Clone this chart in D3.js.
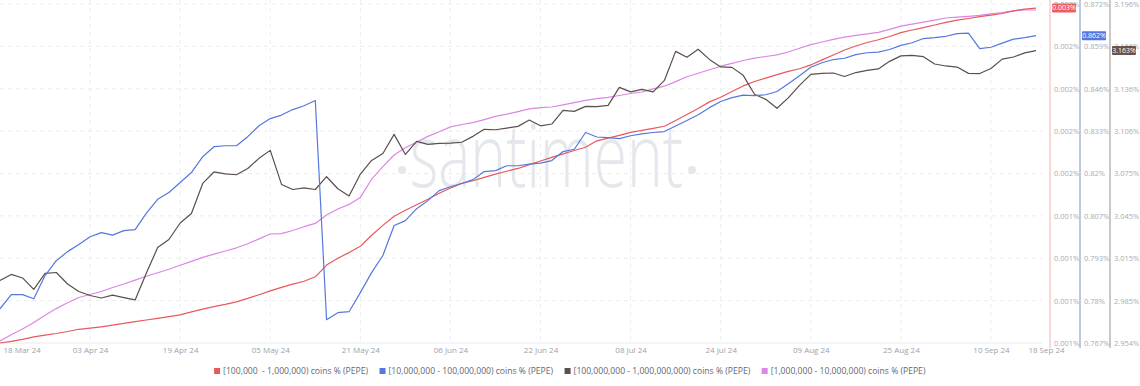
<!DOCTYPE html>
<html>
<head>
<meta charset="utf-8">
<script src="https://cdnjs.cloudflare.com/ajax/libs/d3/7.8.5/d3.min.js"></script>
<style>
  body { margin: 0; background: #fff; }
  text { font-family: "Open Sans", Lato, sans-serif; }
</style>
</head>
<body>
<script>

// one point every 2 days starting 18 Mar 2024
var startDate = "2024-03-18";
var stepDays = 2;

var tickLabels = ["18 Mar 24", "03 Apr 24", "19 Apr 24", "05 May 24", "21 May 24", "06 Jun 24",
  "22 Jun 24", "08 Jul 24", "24 Jul 24", "09 Aug 24", "25 Aug 24", "10 Sep 24", "18 Sep 24"];

var legendLabels = [
  "[100,000  - 1,000,000) coins % (PEPE)",
  "[10,000,000 - 100,000,000) coins % (PEPE)",
  "[100,000,000 - 1,000,000,000) coins % (PEPE)",
  "[1,000,000 - 10,000,000) coins % (PEPE)"
];

var redValues = [0.000850, 0.000858, 0.000868, 0.000880, 0.000889, 0.000897, 0.000907, 0.000918, 0.000924, 0.000930,
  0.000939, 0.000947, 0.000956, 0.000964, 0.000972, 0.000981, 0.000989, 0.001004, 0.001018, 0.001030,
  0.001041, 0.001054, 0.001071, 0.001089, 0.001108, 0.001126, 0.001142, 0.001156, 0.001178, 0.001236,
  0.001270, 0.001298, 0.001329, 0.001384, 0.001433, 0.001478, 0.001508, 0.001535, 0.001562, 0.001592,
  0.001618, 0.001641, 0.001654, 0.001671, 0.001687, 0.001701, 0.001715, 0.001734, 0.001752, 0.001770,
  0.001787, 0.001804, 0.001820, 0.001852, 0.001865, 0.001879, 0.001894, 0.001904, 0.001914, 0.001924,
  0.001953, 0.001982, 0.002012, 0.002045, 0.002068, 0.002096, 0.002124, 0.002146, 0.002163, 0.002180,
  0.002196, 0.002209, 0.002228, 0.002253, 0.002277, 0.002302, 0.002322, 0.002339, 0.002353, 0.002369,
  0.002388, 0.002401, 0.002413, 0.002426, 0.002439, 0.002450, 0.002458, 0.002467, 0.002475, 0.002483,
  0.002496, 0.002505, 0.002510];

var blueValues = [0.7778, 0.7822, 0.7822, 0.7809, 0.7881, 0.7927, 0.7955, 0.7977, 0.8001, 0.8014,
  0.8006, 0.8020, 0.8023, 0.8074, 0.8117, 0.8138, 0.8169, 0.8200, 0.8249, 0.8280,
  0.8283, 0.8283, 0.8311, 0.8345, 0.8367, 0.8378, 0.8395, 0.8407, 0.8423, 0.7744,
  0.7766, 0.7769, 0.7828, 0.7890, 0.7943, 0.8036, 0.8051, 0.8088, 0.8113, 0.8144,
  0.8156, 0.8166, 0.8178, 0.8203, 0.8206, 0.8221, 0.8221, 0.8226, 0.8229, 0.8237,
  0.8265, 0.8272, 0.8324, 0.8310, 0.8308, 0.8305, 0.8314, 0.8320, 0.8324, 0.8327,
  0.8344, 0.8361, 0.8379, 0.8401, 0.8420, 0.8432, 0.8440, 0.8438, 0.8441, 0.8451,
  0.8475, 0.8500, 0.8526, 0.8540, 0.8550, 0.8554, 0.8565, 0.8571, 0.8573, 0.8581,
  0.8594, 0.8602, 0.8615, 0.8618, 0.8622, 0.8630, 0.8632, 0.8584, 0.8588, 0.8601,
  0.8613, 0.8618, 0.8624];

var brownValues = [2.9990, 3.0033, 3.0008, 2.9926, 3.0040, 3.0047, 2.9965, 2.9911, 2.9883, 2.9865,
  2.9886, 2.9868, 2.9851, 3.0043, 3.0225, 3.0282, 3.0400, 3.0468, 3.0682, 3.0764,
  3.0750, 3.0744, 3.0789, 3.0861, 3.0918, 3.0675, 3.0639, 3.0651, 3.0639, 3.0730,
  3.0644, 3.0593, 3.0749, 3.0846, 3.0896, 3.1032, 3.0889, 3.0982, 3.0961, 3.0968,
  3.0970, 3.0976, 3.1018, 3.1068, 3.1065, 3.1077, 3.1089, 3.1134, 3.1093, 3.1106,
  3.1203, 3.1196, 3.1232, 3.1230, 3.1239, 3.1367, 3.1335, 3.1353, 3.1335, 3.1417,
  3.1624, 3.1582, 3.1639, 3.1567, 3.1513, 3.1510, 3.1453, 3.1318, 3.1282, 3.1218,
  3.1292, 3.1382, 3.1460, 3.1467, 3.1470, 3.1445, 3.1473, 3.1489, 3.1499, 3.1553,
  3.1592, 3.1596, 3.1586, 3.1534, 3.1520, 3.1512, 3.1467, 3.1466, 3.1502, 3.1569,
  3.1584, 3.1613, 3.1630];

var pinkValues = [0.012020, 0.012083, 0.012140, 0.012205, 0.012278, 0.012344, 0.012403, 0.012455, 0.012485, 0.012515,
  0.012555, 0.012590, 0.012629, 0.012668, 0.012702, 0.012737, 0.012777, 0.012816, 0.012856, 0.012889,
  0.012920, 0.012952, 0.012992, 0.013041, 0.013090, 0.013094, 0.013125, 0.013163, 0.013196, 0.013280,
  0.013340, 0.013386, 0.013456, 0.013638, 0.013764, 0.013880, 0.013952, 0.014010, 0.014066, 0.014113,
  0.014161, 0.014185, 0.014204, 0.014234, 0.014266, 0.014288, 0.014314, 0.014342, 0.014354, 0.014360,
  0.014381, 0.014404, 0.014426, 0.014444, 0.014456, 0.014475, 0.014495, 0.014510, 0.014541, 0.014568,
  0.014614, 0.014663, 0.014697, 0.014732, 0.014768, 0.014797, 0.014825, 0.014848, 0.014865, 0.014882,
  0.014910, 0.014948, 0.014984, 0.015010, 0.015036, 0.015058, 0.015076, 0.015092, 0.015106, 0.015137,
  0.015168, 0.015188, 0.015208, 0.015228, 0.015250, 0.015259, 0.015267, 0.015277, 0.015291, 0.015305,
  0.015322, 0.015330, 0.015330];

var redDomain = [0.00085, 0.00253];
var blueDomain = [0.7672, 0.8722];
var brownDomain = [2.9544, 3.1962];
var pinkDomain = [0.0120, 0.01539];

var width = 1140, height = 386;
var plotTop = 4, plotBottom = 343, plotRight = 1036;

var parseDay = d3.utcParse("%Y-%m-%d");
var parseTick = d3.utcParse("%d %b %y");
var start = parseDay(startDate);
var dates = redValues.map(function(d, i) { return d3.utcDay.offset(start, i * stepDays); });

var x = d3.scaleUtc()
    .domain([start, parseTick("18 Sep 24")])
    .range([0, plotRight]);

var series = [
  {values: redValues, color: "#e8585c", domain: redDomain, axisX: 1050, axisColor: "#f3c3c0", badge: "#ef5d5f"},
  {values: blueValues, color: "#5677de", domain: blueDomain, axisX: 1080, axisColor: "#93a3c8", badge: "#5677de"},
  {values: brownValues, color: "#5b4f4b", domain: brownDomain, axisX: 1110, axisColor: "#a9a2a0", badge: "#6b5349"},
  {values: pinkValues, color: "#dc86e6", domain: pinkDomain}
];
series.forEach(function(s) {
  s.y = d3.scaleLinear().domain(s.domain).range([plotBottom, plotTop]);
});

var svg = d3.select("body").append("svg")
    .attr("width", width)
    .attr("height", height);

// grid
var gridY = series[1].y;
var gridVals = d3.range(9).map(function(k) {
  return blueDomain[0] + k * (blueDomain[1] - blueDomain[0]) / 8;
});
svg.append("g").selectAll("line").data(gridVals.slice(1))
  .enter().append("line")
    .attr("x1", 0).attr("x2", plotRight + 6)
    .attr("y1", function(d) { return gridY(d); })
    .attr("y2", function(d) { return gridY(d); })
    .attr("stroke", "#ebecef")
    .attr("stroke-dasharray", "4,4");

svg.append("line")
    .attr("x1", 0).attr("x2", plotRight + 6)
    .attr("y1", plotBottom).attr("y2", plotBottom)
    .attr("stroke", "#e9eaee");

var tickDates = tickLabels.map(parseTick);
svg.append("g").selectAll("line").data(tickDates.slice(1, -1))
  .enter().append("line")
    .attr("x1", function(d) { return x(d); })
    .attr("x2", function(d) { return x(d); })
    .attr("y1", 0).attr("y2", plotBottom)
    .attr("stroke", "#ebecef")
    .attr("stroke-dasharray", "4,4");

// watermark
svg.append("text")
    .attr("x", 410).attr("y", 187)
    .attr("textLength", 273)
    .attr("lengthAdjust", "spacingAndGlyphs")
    .attr("font-size", "88px")
    .attr("font-weight", 300)
    .attr("fill", "#e4e7eb")
    .text("santiment");
svg.append("circle").attr("cx", 402).attr("cy", 170).attr("r", 4).attr("fill", "#e4e7eb");
svg.append("circle").attr("cx", 692).attr("cy", 170).attr("r", 4).attr("fill", "#e4e7eb");

// x axis labels
var xAxis = d3.axisBottom(x)
    .tickValues(tickDates)
    .tickSize(0)
    .tickPadding(4)
    .tickFormat(d3.utcFormat("%d %b %y"));
var gx = svg.append("g")
    .attr("transform", "translate(0," + plotBottom + ")")
    .call(xAxis);
gx.select(".domain").remove();
gx.selectAll("text")
    .attr("fill", "#9ca1ab")
    .attr("font-size", "8px")
    .attr("font-family", "\"Open Sans\", sans-serif");
gx.selectAll(".tick").filter(function(d, i) { return i === 0; })
    .select("text").attr("text-anchor", "start").attr("x", 3);
gx.selectAll(".tick").filter(function(d, i) { return i === tickDates.length - 1; })
    .select("text").attr("x", 10);

// lines
var line = d3.line()
    .x(function(d, i) { return x(dates[i]); });

[series[3], series[0], series[2], series[1]].forEach(function(s) {
  svg.append("path")
      .datum(s.values)
      .attr("fill", "none")
      .attr("stroke", s.color)
      .attr("stroke-width", 1.2)
      .attr("stroke-linejoin", "round")
      .attr("d", line.y(function(d) { return s.y(d); }));
});

// right axes
var fmt = d3.format(".3~f");
series.slice(0, 3).forEach(function(s) {
  var ticks = d3.range(9).map(function(k) {
    return s.domain[0] + k * (s.domain[1] - s.domain[0]) / 8;
  });
  var g = svg.append("g")
      .attr("transform", "translate(" + s.axisX + ",0)")
      .call(d3.axisRight(s.y).tickValues(ticks).tickSize(0).tickPadding(4)
        .tickFormat(function(d) { return fmt(d) + "%"; }));
  g.select(".domain").remove();
  g.selectAll("text")
      .attr("fill", "#a7acb5")
      .attr("font-size", "7.5px")
      .attr("font-family", "\"Open Sans\", sans-serif");
  svg.append("line")
      .attr("x1", s.axisX).attr("x2", s.axisX)
      .attr("y1", 0).attr("y2", 348)
      .attr("stroke", s.axisColor)
      .attr("stroke-width", 1.2);
});

// last value badges
series.slice(0, 3).forEach(function(s) {
  var last = s.values[s.values.length - 1];
  var cy = s.y(last);
  svg.append("rect")
      .attr("x", s.axisX + 2).attr("y", cy - 4.5)
      .attr("width", 24).attr("height", 9)
      .attr("rx", 1)
      .attr("fill", s.badge);
  svg.append("text")
      .attr("x", s.axisX + 14).attr("y", cy)
      .attr("dy", "0.35em")
      .attr("text-anchor", "middle")
      .attr("font-size", "7px")
      .attr("fill", "#fff")
      .text(fmt(last) + "%");
});

// legend
var legend = svg.append("g").attr("transform", "translate(0,371)");
var legendOrder = [0, 1, 2, 3];
var items = legend.selectAll("g").data(legendOrder).enter().append("g");
items.append("rect")
    .attr("width", 6).attr("height", 6)
    .attr("y", -3)
    .attr("fill", function(d) { return series[d].color; });
items.append("text")
    .attr("x", 9)
    .attr("dy", "0.35em")
    .attr("font-size", "8.6px")
    .attr("fill", "#626773")
    .style("white-space", "pre")
    .text(function(d) { return legendLabels[d]; });

var offsets = [], total = 0;
items.each(function() {
  var w = this.getBBox().width;
  offsets.push(total);
  total += w + 11;
});
total -= 11;
var legendStart = (width - total) / 2;
items.attr("transform", function(d, i) { return "translate(" + (legendStart + offsets[i]) + ",0)"; });

</script>
</body>
</html>
